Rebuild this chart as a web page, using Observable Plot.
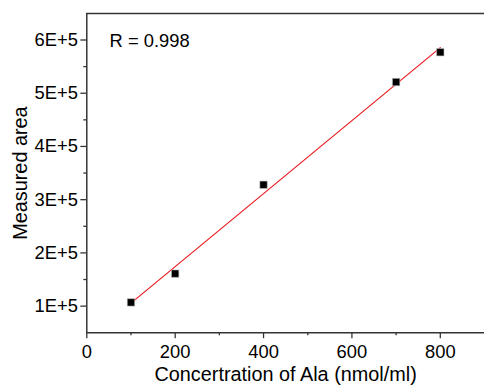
<!DOCTYPE html>
<html>
<head>
<meta charset="utf-8">
<script src="https://cdn.jsdelivr.net/npm/d3@7"></script>
<script src="https://cdn.jsdelivr.net/npm/@observablehq/plot@0.6"></script>
<style>
html, body { margin: 0; padding: 0; background: #fff; overflow: hidden; }
svg { display: block; }
</style>
</head>
<body>
<div id="chart"></div>
<script>
const concentration = [100, 200, 400, 700, 800];
const area = [107000, 161000, 328000, 521000, 577000];
const xTicks = [0, 200, 400, 600, 800];
const xMinorTicks = [100, 300, 500, 700];
const yTicks = [100000, 200000, 300000, 400000, 500000, 600000];
const yMinorTicks = [150000, 250000, 350000, 450000, 550000];
const xLabel = "Concertration of Ala (nmol/ml)";
const yLabel = "Measured area";
const annotation = "R = 0.998";

const data = concentration.map((c, i) => ({c, a: area[i]}));
const font = "Liberation Sans, Arial, Helvetica, sans-serif";
const axisColor = "#333";

const chart = Plot.plot({
  width: 488,
  height: 389,
  marginLeft: 87,
  marginTop: 13,
  marginBottom: 54,
  marginRight: 0,
  style: {fontFamily: font, color: "#000", background: "#fff"},
  x: {domain: [0, 900]},
  y: {domain: [50000, 650000]},
  marks: [
    Plot.ruleX([0], {stroke: axisColor, strokeWidth: 1.5}),
    Plot.ruleY([50000, 650000], {stroke: axisColor, strokeWidth: 1.5}),
    Plot.axisX({ticks: xTicks, tickSize: 6, tickPadding: 6, fontSize: 18.5, stroke: axisColor, strokeWidth: 1.3, label: null, color: "#000"}),
    Plot.axisX({ticks: xMinorTicks, tickSize: 3, tickFormat: () => "", stroke: axisColor, strokeWidth: 1.3, label: null}),
    Plot.axisY({ticks: yTicks, tickSize: 6, tickPadding: 3, fontSize: 18.5, stroke: axisColor, strokeWidth: 1.3, label: null, tickFormat: d => `${d / 100000}E+5`}),
    Plot.axisY({ticks: yMinorTicks, tickSize: 3, tickFormat: () => "", stroke: axisColor, strokeWidth: 1.3, label: null}),
    Plot.linearRegressionY(data, {x: "c", y: "a", stroke: "#e8191f", strokeWidth: 1.2, ci: 0}),
    Plot.dot(data, {x: "c", y: "a", symbol: "square", r: 4.2, fill: "#000", stroke: "#bbb", strokeWidth: 0.6}),
    Plot.text([annotation], {frameAnchor: "top-left", dx: 23, dy: 28, fontSize: 18.5, textAnchor: "start", lineAnchor: "middle", fill: "#000"}),
    Plot.text([xLabel], {frameAnchor: "bottom", dy: 42, fontSize: 20, textAnchor: "middle", lineAnchor: "middle", fill: "#000"}),
    Plot.text([yLabel], {frameAnchor: "left", dx: -67, rotate: -90, fontSize: 20, textAnchor: "middle", lineAnchor: "middle", fill: "#000"})
  ]
});
document.getElementById("chart").appendChild(chart);
</script>
</body>
</html>
